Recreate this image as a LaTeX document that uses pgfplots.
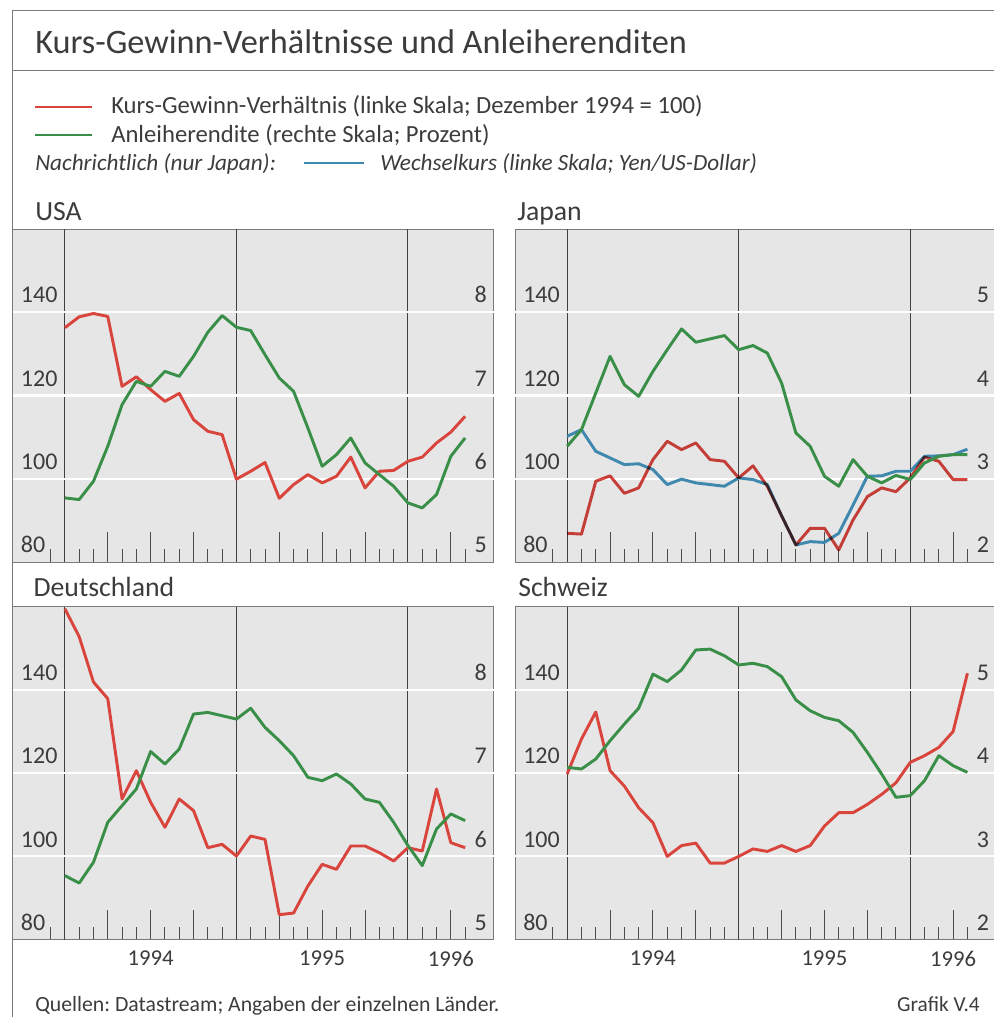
\documentclass[border=0pt]{standalone}
\usepackage{pgfplots}
\pgfplotsset{compat=1.18}
\usepackage{fontspec}
\setmainfont{Carlito}
\frenchspacing
\definecolor{kred}{HTML}{D9453D}
\definecolor{kgreen}{HTML}{3A8F48}
\definecolor{kblue}{HTML}{3F88AE}
\definecolor{bg}{HTML}{E6E6E6}
\definecolor{txt}{HTML}{3C3C3C}
\definecolor{frame}{HTML}{7A7A7A}

\pgfplotsset{
  base/.style={
    scale only axis, width=360.75pt, height=249.75pt, anchor=north west,
    xmin=-3.65, xmax=30,
    /pgf/number format/assume math mode=true,
    clip=true,
  },
  panel/.style={
    base, ymin=80, ymax=160,
    axis background/.style={fill=bg},
    axis line style={draw=frame, line width=0.7pt},
    ytick={80,100,120,140},
    ytick style={draw=none},
    yticklabel style={anchor=base west, inner sep=0pt, xshift=6pt, yshift=7pt,
      font=\fontsize{18}{18}\selectfont, text=txt},
    xtick={3,6,9,15,18,21,27},
    xticklabels={},
    minor xtick={-1,1,2,4,5,7,8,10,11,13,14,16,17,19,20,22,23,25,26,28},
    tick align=inside, xtick pos=bottom,
    major tick length=22.5pt, minor tick length=9.75pt,
    xtick style={draw=black!70, line width=0.75pt},
    minor x tick style={draw=black!70, line width=0.75pt},
    extra x ticks={0,12,24}, extra x tick labels={},
    extra x tick style={xmajorgrids=true, major tick length=0pt,
      major grid style={black!75, line width=0.7pt}},
    extra y ticks={100,120,140}, extra y tick labels={},
    extra y tick style={ymajorgrids=true, major tick length=0pt,
      major grid style={white, line width=1.6pt}},
  },
  lower/.style={
    xticklabels={,1994,,,1995,,1996},
    xticklabel style={anchor=north, inner sep=0pt, yshift=-8.25pt,
      font=\fontsize{17}{17}\selectfont, text=txt},
  },
  rpanel/.style={
    base,
    axis line style={draw=none},
    xtick=\empty,
    ytick style={draw=none},
    yticklabel pos=right,
    yticklabel style={anchor=base east, inner sep=0pt, xshift=-5pt, yshift=7pt,
      font=\fontsize{18}{18}\selectfont, text=txt},
  },
  ser/.style={line width=2.2pt, line join=round},
}

\begin{document}
\begin{tikzpicture}
\useasboundingbox (0,0) rectangle (744.75pt,-762.75pt);
% outer frame
\draw[frame, line width=0.75pt] (9.53pt,-762.75pt) -- (9.53pt,-7.5pt) -- (760pt,-7.5pt);
\draw[frame, line width=0.75pt] (9.53pt,-52.5pt) -- (760pt,-52.5pt);
% title
\node[anchor=base west, inner sep=0pt, text=txt, font=\fontsize{25.7}{25.7}\selectfont] at (26.25pt,-39.75pt) {Kurs-Gewinn-Verhältnisse und Anleiherenditen};
% legend
\draw[kred, line width=2.2pt] (26.25pt,-80.25pt) -- (69pt,-80.25pt);
\node[anchor=base west, inner sep=0pt, text=txt, font=\fontsize{18.5}{18.5}\selectfont] at (83.25pt,-85pt) {Kurs-Gewinn-Verhältnis (linke Skala; Dezember 1994 = 100)};
\draw[kgreen, line width=2.2pt] (26.25pt,-101.25pt) -- (69pt,-101.25pt);
\node[anchor=base west, inner sep=0pt, text=txt, font=\fontsize{18.5}{18.5}\selectfont] at (83.25pt,-106.5pt) {Anleiherendite (rechte Skala; Prozent)};
\node[anchor=base west, inner sep=0pt, text=txt, font=\fontsize{17.4}{17.4}\selectfont\itshape] at (26.25pt,-127.5pt) {Nachrichtlich (nur Japan):};
\draw[kblue, line width=2.2pt] (228pt,-122.25pt) -- (273pt,-122.25pt);
\node[anchor=base west, inner sep=0pt, text=txt, font=\fontsize{17.4}{17.4}\selectfont\itshape] at (285pt,-127.5pt) {Wechselkurs (linke Skala; Yen/US-Dollar)};
% panel titles
\node[anchor=base west, inner sep=0pt, text=txt, font=\fontsize{20.8}{20.8}\selectfont] at (26.25pt,-165pt) {USA};
\node[anchor=base west, inner sep=0pt, text=txt, font=\fontsize{20.8}{20.8}\selectfont] at (387.75pt,-165pt) {Japan};
\node[anchor=base west, inner sep=0pt, text=txt, font=\fontsize{20.8}{20.8}\selectfont] at (25pt,-447pt) {Deutschland};
\node[anchor=base west, inner sep=0pt, text=txt, font=\fontsize{20.8}{20.8}\selectfont] at (388.5pt,-447pt) {Schweiz};
% footer
\node[anchor=base west, inner sep=0pt, text=txt, font=\fontsize{16.3}{16.3}\selectfont] at (26.25pt,-758.25pt) {Quellen: Datastream; Angaben der einzelnen Länder.};
\node[anchor=base east, inner sep=0pt, text=txt, font=\fontsize{16}{16}\selectfont] at (735pt,-758.25pt) {Grafik V.4};

% ---------------- USA ----------------
\begin{axis}[panel, at={(9.53pt,-171.75pt)}]
\addplot[ser, kred] coordinates {(0,136.3)(1,138.9)(2,139.7)(3,139.0)(4,122.2)(5,124.5)(6,121.4)(7,118.6)(8,120.5)(9,114.2)(10,111.4)(11,110.6)(12,99.9)(13,101.8)(14,103.9)(15,95.3)(16,98.6)(17,101.0)(18,99.0)(19,100.6)(20,105.2)(21,97.8)(22,101.8)(23,102.0)(24,104.2)(25,105.2)(26,108.6)(27,111.2)(28,115.0)};
\end{axis}
\begin{axis}[rpanel, at={(9.53pt,-171.75pt)}, ymin=5, ymax=9, ytick={5,6,7,8}]
\addplot[ser, kgreen] coordinates {(0,5.77)(1,5.75)(2,5.97)(3,6.39)(4,6.89)(5,7.17)(6,7.11)(7,7.29)(8,7.23)(9,7.47)(10,7.76)(11,7.96)(12,7.82)(13,7.78)(14,7.49)(15,7.21)(16,7.05)(17,6.61)(18,6.15)(19,6.29)(20,6.49)(21,6.19)(22,6.05)(23,5.91)(24,5.71)(25,5.65)(26,5.81)(27,6.27)(28,6.49)};
\end{axis}

% ---------------- Japan ----------------
\begin{axis}[panel, at={(386.25pt,-171.75pt)}]
\addplot[ser, kblue] coordinates {(0,110.2)(1,111.8)(2,106.6)(3,105.0)(4,103.4)(5,103.6)(6,102.2)(7,98.6)(8,99.9)(9,99.0)(10,98.6)(11,98.2)(12,100.2)(13,99.8)(14,98.6)(15,91.1)(16,84.1)(17,84.9)(18,84.7)(19,86.9)(20,93.7)(21,100.6)(22,100.7)(23,101.8)(24,101.8)(25,105.4)(26,105.5)(27,105.8)(28,107.1)};
\addplot[ser, kred, blend mode=multiply] coordinates {(0,86.9)(1,86.7)(2,99.4)(3,100.7)(4,96.5)(5,97.8)(6,104.6)(7,109.0)(8,107.0)(9,108.6)(10,104.6)(11,104.2)(12,100.2)(13,103.1)(14,98.2)(15,91.1)(16,84.1)(17,88.1)(18,88.1)(19,82.9)(20,90.1)(21,95.7)(22,97.8)(23,96.9)(24,100.2)(25,105.2)(26,104.2)(27,99.8)(28,99.8)};
\end{axis}
\begin{axis}[rpanel, at={(386.25pt,-171.75pt)}, ymin=2, ymax=6, ytick={2,3,4,5}]
\addplot[ser, kgreen] coordinates {(0,3.39)(1,3.59)(2,4.03)(3,4.47)(4,4.13)(5,3.99)(6,4.29)(7,4.55)(8,4.80)(9,4.64)(10,4.68)(11,4.72)(12,4.55)(13,4.60)(14,4.51)(15,4.15)(16,3.55)(17,3.39)(18,3.03)(19,2.91)(20,3.23)(21,3.03)(22,2.95)(23,3.04)(24,2.99)(25,3.19)(26,3.27)(27,3.29)(28,3.29)};
\end{axis}

% ---------------- Deutschland ----------------
\begin{axis}[panel, lower, at={(9.53pt,-455pt)}]
\addplot[ser, kred] coordinates {(0,159.5)(1,152.8)(2,141.9)(3,137.9)(4,113.8)(5,120.6)(6,113.0)(7,107.0)(8,113.8)(9,111.0)(10,102.1)(11,102.9)(12,100.1)(13,104.9)(14,104.1)(15,86.0)(16,86.4)(17,92.9)(18,98.1)(19,96.9)(20,102.5)(21,102.5)(22,100.9)(23,98.9)(24,102.1)(25,101.3)(26,116.2)(27,103.3)(28,102.1)};
\end{axis}
\begin{axis}[rpanel, at={(9.53pt,-455pt)}, ymin=5, ymax=9, ytick={5,6,7,8}]
\addplot[ser, kgreen] coordinates {(0,5.77)(1,5.68)(2,5.93)(3,6.41)(4,6.61)(5,6.81)(6,7.26)(7,7.11)(8,7.29)(9,7.71)(10,7.73)(11,7.69)(12,7.65)(13,7.78)(14,7.55)(15,7.39)(16,7.21)(17,6.95)(18,6.91)(19,6.99)(20,6.87)(21,6.69)(22,6.65)(23,6.41)(24,6.13)(25,5.89)(26,6.33)(27,6.51)(28,6.43)};
\end{axis}

% ---------------- Schweiz ----------------
\begin{axis}[panel, lower, at={(386.25pt,-455pt)}]
\addplot[ser, kred] coordinates {(0,119.8)(1,128.2)(2,134.7)(3,120.6)(4,116.9)(5,111.7)(6,108.1)(7,100.0)(8,102.6)(9,103.2)(10,98.4)(11,98.4)(12,100.0)(13,101.8)(14,101.2)(15,102.6)(16,101.2)(17,102.6)(18,107.3)(19,110.5)(20,110.5)(21,112.5)(22,114.9)(23,117.7)(24,122.6)(25,124.2)(26,126.2)(27,130.0)(28,144.0)};
\end{axis}
\begin{axis}[rpanel, at={(386.25pt,-455pt)}, ymin=2, ymax=6, ytick={2,3,4,5}]
\addplot[ser, kgreen] coordinates {(0,4.07)(1,4.05)(2,4.17)(3,4.39)(4,4.59)(5,4.78)(6,5.19)(7,5.10)(8,5.24)(9,5.48)(10,5.49)(11,5.41)(12,5.30)(13,5.32)(14,5.28)(15,5.16)(16,4.88)(17,4.75)(18,4.67)(19,4.63)(20,4.49)(21,4.25)(22,3.99)(23,3.71)(24,3.73)(25,3.91)(26,4.21)(27,4.09)(28,4.01)};
\end{axis}
\end{tikzpicture}
\end{document}
